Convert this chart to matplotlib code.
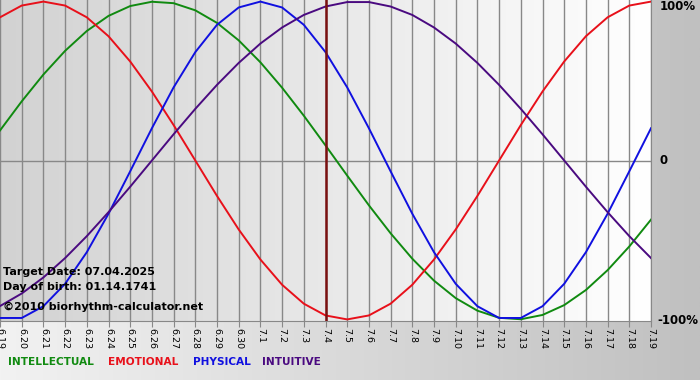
import numpy as np
import matplotlib
matplotlib.use("Agg")
import matplotlib.pyplot as plt

# gün etiketleri (6.19 -> 7.19)
days = ["6.19", "6.20", "6.21", "6.22", "6.23", "6.24", "6.25", "6.26", "6.27",
        "6.28", "6.29", "6.30", "7.1", "7.2", "7.3", "7.4", "7.5", "7.6", "7.7",
        "7.8", "7.9", "7.10", "7.11", "7.12", "7.13", "7.14", "7.15", "7.16",
        "7.17", "7.18", "7.19"]

intellectual = [0.189, 0.372, 0.541, 0.690, 0.815, 0.910, 0.972, 0.999, 0.990,
                0.945, 0.866, 0.756, 0.618, 0.458, 0.282, 0.095, -0.095, -0.282,
                -0.458, -0.618, -0.756, -0.866, -0.945, -0.990, -0.999, -0.972,
                -0.910, -0.815, -0.690, -0.541, -0.372]
emotional = [0.901, 0.975, 1.0, 0.975, 0.901, 0.782, 0.623, 0.434, 0.223, 0.0,
             -0.223, -0.434, -0.623, -0.782, -0.901, -0.975, -1.0, -0.975, -0.901,
             -0.782, -0.623, -0.434, -0.223, 0.0, 0.223, 0.434, 0.623, 0.782,
             0.901, 0.975, 1.0]
physical = [-0.991, -0.991, -0.917, -0.776, -0.577, -0.335, -0.068, 0.203, 0.460,
            0.682, 0.854, 0.963, 1.0, 0.963, 0.854, 0.682, 0.460, 0.203, -0.068,
            -0.335, -0.577, -0.776, -0.917, -0.991, -0.991, -0.917, -0.776, -0.577,
            -0.335, -0.068, 0.203]
intuitive = [-0.916, -0.837, -0.736, -0.614, -0.476, -0.325, -0.165, 0.0, 0.165,
             0.325, 0.476, 0.614, 0.736, 0.837, 0.916, 0.969, 0.997, 0.997, 0.969,
             0.916, 0.837, 0.736, 0.614, 0.476, 0.325, 0.165, 0.0, -0.165, -0.325,
             -0.476, -0.614]

target_day = "7.4"

C_INT = "#108a10"
C_EMO = "#e8101a"
C_PHY = "#1010e0"
C_ITU = "#4a0a80"

fig = plt.figure(figsize=(7, 3.8), dpi=100)

# arka plan gradyanı (tüm figür)
bg = fig.add_axes([0, 0, 1, 1], zorder=-5)
grad = np.linspace(0, 1, 256).reshape(1, -1)
bg.imshow(grad, extent=[0, 1, 0, 1], aspect="auto",
          cmap=matplotlib.colors.LinearSegmentedColormap.from_list(
              "bgc", ["#f2f2f2", "#c0c0c0"]))
bg.axis("off")

ax = fig.add_axes([0, 1 - 321 / 380, 651 / 700, 321 / 380])
ax.imshow(grad, extent=[0, 1, 0, 1], aspect="auto", transform=ax.transAxes,
          cmap=matplotlib.colors.LinearSegmentedColormap.from_list(
              "plc", ["#d2d2d2", "#ffffff"]), zorder=0)

x = np.arange(len(days))
for i in x:
    ax.axvline(i, color="#888888", lw=1, zorder=1)
ax.axhline(0, color="#888888", lw=1, zorder=1)

kw = dict(lw=1.4, zorder=3, solid_joinstyle="round")
ax.plot(x, intellectual, color=C_INT, **kw)
ax.plot(x, emotional, color=C_EMO, **kw)
ax.plot(x, physical, color=C_PHY, **kw)
ax.plot(x, intuitive, color=C_ITU, **kw)

ax.axvline(days.index(target_day), color="#7a1010", lw=1.8, zorder=4)

ax.set_xlim(0, len(days) - 1)
ax.set_ylim(-1.01, 1.01)
ax.set_xticks(x)
ax.set_xticklabels(days, rotation=270, fontsize=6.8)
ax.tick_params(axis="x", length=4, color="#888888", pad=1)
ax.set_yticks([])
for s in ["top", "left"]:
    ax.spines[s].set_visible(False)
for s in ["right", "bottom"]:
    ax.spines[s].set_color("#888888")

# sağ etiketler
ax.text(1.013, 1.0, "100%", transform=ax.transAxes, ha="left", va="top",
        fontsize=8.5, fontweight="bold")
ax.text(1.013, 0.5, "0", transform=ax.transAxes, ha="left", va="center",
        fontsize=8.5, fontweight="bold")
ax.text(1.01, 0.0, "-100%", transform=ax.transAxes, ha="left", va="center",
        fontsize=8.5, fontweight="bold")

# bilgi yazıları
info = ["Target Date: 07.04.2025", "Day of birth: 01.14.1741"]
fig.text(3 / 700, 1 - 272 / 380, info[0], fontsize=8, fontweight="bold", va="center")
fig.text(3 / 700, 1 - 287 / 380, info[1], fontsize=8, fontweight="bold", va="center")
fig.text(3 / 700, 1 - 307 / 380, "\u00a92010 biorhythm-calculator.net", fontsize=8,
         fontweight="bold", va="center")

# lejant
legend = [("INTELLECTUAL", C_INT, 8), ("EMOTIONAL", C_EMO, 108),
          ("PHYSICAL", C_PHY, 193), ("INTUITIVE", C_ITU, 262)]
for name, col, px in legend:
    fig.text(px / 700, 1 - 362 / 380, name, color=col, fontsize=7.6,
             fontweight="bold", va="center")

fig.savefig("out.png", dpi=100)
